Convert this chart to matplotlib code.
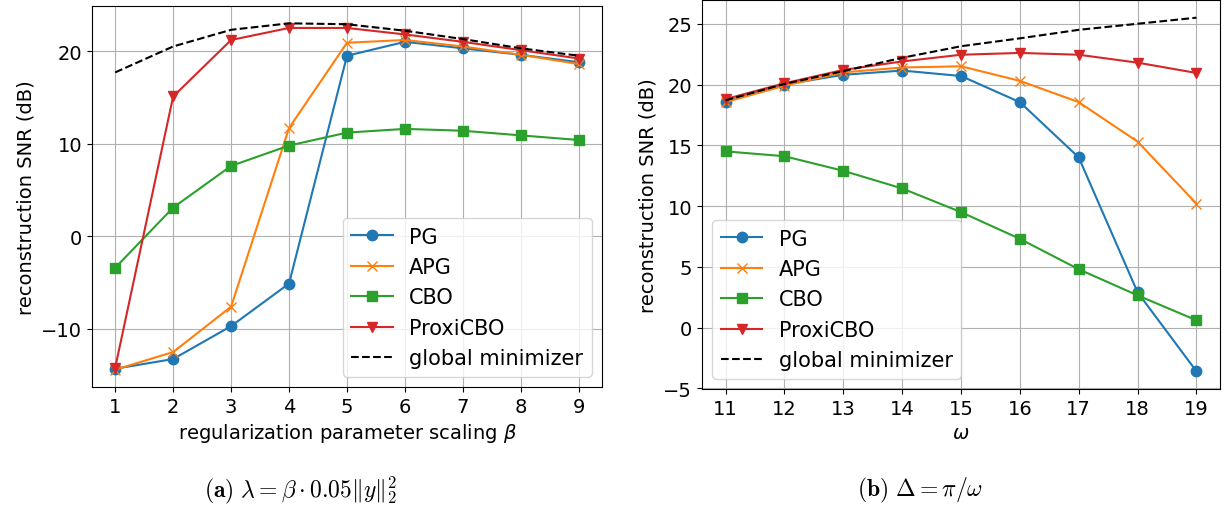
import matplotlib
matplotlib.use("Agg")
import matplotlib.pyplot as plt

# Left panel data
beta = [1, 2, 3, 4, 5, 6, 7, 8, 9]
pg_a = [-14.3, -13.25, -9.7, -5.1, 19.5, 21.0, 20.3, 19.6, 18.8]
apg_a = [-14.4, -12.5, -7.6, 11.7, 20.9, 21.2, 20.5, 19.6, 18.6]
cbo_a = [-3.4, 3.1, 7.6, 9.8, 11.2, 11.6, 11.4, 10.9, 10.4]
proxi_a = [-14.2, 15.1, 21.2, 22.5, 22.5, 21.8, 21.0, 20.1, 19.2]
glob_a = [17.7, 20.5, 22.3, 23.0, 22.9, 22.2, 21.3, 20.3, 19.5]

# Right panel data
omega = [11, 12, 13, 14, 15, 16, 17, 18, 19]
pg_b = [18.6, 20.0, 20.8, 21.15, 20.7, 18.55, 14.0, 2.9, -3.6]
apg_b = [18.55, 19.9, 21.0, 21.4, 21.5, 20.3, 18.55, 15.3, 10.2]
cbo_b = [14.5, 14.1, 12.9, 11.45, 9.5, 7.3, 4.8, 2.65, 0.6]
proxi_b = [18.8, 20.1, 21.2, 21.9, 22.45, 22.6, 22.45, 21.8, 20.95]
glob_b = [18.7, 20.05, 21.1, 22.2, 23.15, 23.8, 24.5, 25.0, 25.5]

labels = ["PG", "APG", "CBO", "ProxiCBO", "global minimizer"]

plt.rcParams["font.size"] = 14

fig = plt.figure(figsize=(12.27, 5.06), dpi=100)
W, H = 1227, 506
ax1 = fig.add_axes([92 / W, (H - 388) / H, 510 / W, 381 / H])
ax2 = fig.add_axes([702 / W, (H - 390) / H, 518 / W, 389 / H])

ms = 7.5
def draw(ax, x, pg, apg, cbo, proxi, glob):
    ax.plot(x, pg, marker="o", color="tab:blue", ms=ms, label=labels[0])
    ax.plot(x, apg, marker="x", color="tab:orange", ms=ms, label=labels[1])
    ax.plot(x, cbo, marker="s", color="tab:green", ms=ms, label=labels[2])
    ax.plot(x, proxi, marker="v", color="tab:red", ms=ms, label=labels[3])
    ax.plot(x, glob, "k--", label=labels[4])
    ax.grid(True)
    ax.set_xticks(x)
    ax.set_ylabel("reconstruction SNR (dB)")

draw(ax1, beta, pg_a, apg_a, cbo_a, proxi_a, glob_a)
draw(ax2, omega, pg_b, apg_b, cbo_b, proxi_b, glob_b)
ax1.set_yticks([-10, 0, 10, 20])
ax2.set_yticks([-5, 0, 5, 10, 15, 20, 25])
ax1.set_xlabel(r"regularization parameter scaling $\beta$")
ax2.set_xlabel(r"$\omega$")
ax1.legend(loc="lower right", fontsize=15)
ax2.legend(loc="lower left", fontsize=15)

fig.text(300 / W, 1 - 490 / H, r"$\mathbf{(a)}\ \lambda = \beta\cdot 0.05\|y\|_2^2$",
         ha="center", va="center", fontsize=17, math_fontfamily="cm")
fig.text(920 / W, 1 - 490 / H, r"$\mathbf{(b)}\ \Delta = \pi/\omega$",
         ha="center", va="center", fontsize=17, math_fontfamily="cm")

fig.savefig("out.png", dpi=100)
